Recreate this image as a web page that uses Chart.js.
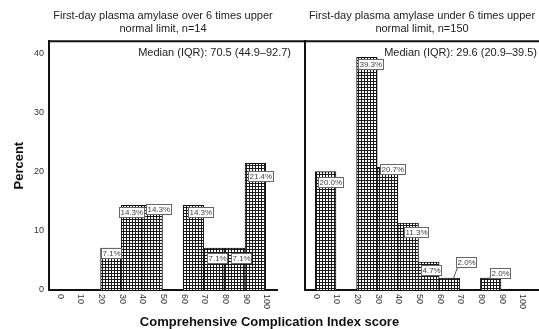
<!DOCTYPE html>
<html>
<head>
<meta charset="utf-8">
<script src="https://cdn.jsdelivr.net/npm/chart.js@4.4.0/dist/chart.umd.min.js"></script>
<style>
  body { margin: 0; background: #fff; }
  #wrap { position: relative; width: 539px; height: 329px; overflow: hidden; }
  .panel { position: absolute; top: 0; height: 329px; }
  #left { left: 0; width: 305px; }
  #right { left: 301px; width: 238px; }
  #xtitle { position: absolute; left: 0; width: 539px; top: 314px; text-align: center;
            font: bold 13px "Liberation Sans", Arial, sans-serif; color: #111; }
</style>
</head>
<body>
<div id="wrap">
  <div class="panel" id="left"><canvas id="chartOver"></canvas></div>
  <div class="panel" id="right"><canvas id="chartUnder"></canvas></div>
  <div id="xtitle">Comprehensive Complication Index score</div>
</div>
<script>
// bins of 10 points, 0-100
const binEdges = [0, 10, 20, 30, 40, 50, 60, 70, 80, 90, 100];
const yTicks = [0, 10, 20, 30, 40];

const overTitle = ['First-day plasma amylase over 6 times upper', 'normal limit, n=14'];
const overValues = [null, null, 7.1, 14.3, 14.3, null, 14.3, 7.1, 7.1, 21.4];
const overMedian = 'Median (IQR): 70.5 (44.9\u201392.7)';

const underTitle = ['First-day plasma amylase under 6 times upper', 'normal limit, n=150'];
const underValues = [20.0, null, 39.3, 20.7, 11.3, 4.7, 2.0, null, 2.0, null];
const underMedian = 'Median (IQR): 29.6 (20.9\u201339.5)';

// where each % box sits, relative to its bar's top-left corner (px)
const overBoxShift = [null, null, [0, 0], [-2, 2], [4, -1], null, [5, 2], [3, 5], [7, 5], [3, 8]];
const underBoxShift = [[3, 5], null, [1, 2], [3, -3], [6, 4], [3, 3], [17, -21], null, [10, -10], null];

function gridPattern() {
  const c = document.createElement('canvas');
  c.width = 3; c.height = 3;
  const g = c.getContext('2d');
  g.fillStyle = '#fff';
  g.fillRect(0, 0, 3, 3);
  g.fillStyle = '#1a1a1a';
  g.fillRect(0, 0, 3, 1);
  g.fillRect(0, 0, 1, 3);
  return g.createPattern(c, 'repeat');
}

function toPoints(values) {
  const pts = [];
  values.forEach((v, i) => {
    if (v !== null) pts.push({ x: binEdges[i] + 5, y: v });
  });
  return pts;
}

function extras(median, medianRight, boxShift, lineRight) {
  return {
    id: 'extras',
    afterDraw(chart) {
      const { ctx, chartArea, scales } = chart;
      ctx.save();
      // top frame line
      ctx.strokeStyle = '#111';
      ctx.lineWidth = 2;
      ctx.beginPath();
      ctx.moveTo(chartArea.left - 1, chartArea.top);
      ctx.lineTo(lineRight, chartArea.top);
      ctx.stroke();

      // x tick labels, turned clockwise
      ctx.fillStyle = '#333';
      ctx.font = '9px "Liberation Sans", Arial, sans-serif';
      ctx.textAlign = 'left';
      ctx.textBaseline = 'middle';
      scales.x.ticks.forEach(t => {
        const px = scales.x.getPixelForValue(t.value);
        ctx.save();
        ctx.translate(px + 1, chartArea.bottom + 4);
        ctx.rotate(Math.PI / 2);
        ctx.fillText(String(t.value), 0, 0);
        ctx.restore();
      });

      // percentage boxes
      const meta = chart.getDatasetMeta(0);
      const shifts = boxShift.filter(s => s !== null);
      const vals = chart.data.datasets[0].data;
      ctx.font = '8px "Liberation Sans", Arial, sans-serif';
      meta.data.forEach((bar, i) => {
        const label = vals[i].y.toFixed(1) + '%';
        const left = bar.x - bar.width / 2;
        const bx = Math.round(left + shifts[i][0]) + 0.5;
        const by = Math.round(bar.y + shifts[i][1]) + 0.5;
        const w = Math.round(ctx.measureText(label).width + 2);
        const h = 10;
        if (shifts[i][1] < -6) {
          ctx.strokeStyle = '#555';
          ctx.lineWidth = 1;
          ctx.beginPath();
          ctx.moveTo(bx + 1, by + h);
          ctx.lineTo(bx - 3, bar.y);
          ctx.stroke();
        }
        ctx.fillStyle = '#fff';
        ctx.fillRect(bx, by, w, h);
        ctx.strokeStyle = '#666';
        ctx.lineWidth = 1;
        ctx.strokeRect(bx, by, w, h);
        ctx.fillStyle = '#444';
        ctx.textAlign = 'left';
        ctx.fillText(label, bx + 1, by + h / 2 + 0.5);
      });

      // median note
      ctx.fillStyle = '#222';
      ctx.font = '11px "Liberation Sans", Arial, sans-serif';
      ctx.textAlign = 'right';
      ctx.fillText(median, medianRight, 53);
      ctx.restore();
    }
  };
}

function makeChart(id, title, values, median, medianRight, boxShift, opts) {
  return new Chart(document.getElementById(id), {
    type: 'bar',
    data: {
      datasets: [{
        data: toPoints(values),
        backgroundColor: gridPattern(),
        borderColor: '#111',
        borderWidth: 1,
        borderSkipped: 'bottom',
        barPercentage: 1,
        categoryPercentage: 1
      }]
    },
    options: {
      responsive: true,
      maintainAspectRatio: false,
      animation: false,
      layout: { padding: { left: 0, right: opts.padRight, top: 0, bottom: 0 } },
      plugins: {
        legend: { display: false },
        tooltip: { enabled: false },
        title: {
          display: true,
          text: title,
          fullSize: false,
          color: '#222',
          font: { family: '"Liberation Sans", Arial, sans-serif', size: 11, weight: 'normal', lineHeight: 1.15 },
          padding: { top: 10, bottom: 6 }
        }
      },
      scales: {
        x: {
          type: 'linear',
          offset: false,
          min: -5,
          max: opts.xMax,
          afterBuildTicks: s => { s.ticks = binEdges.map(v => ({ value: v })); },
          afterFit: s => { s.height = 39; },
          ticks: { display: false },
          grid: { display: false, drawTicks: false },
          border: { display: true, color: '#111', width: 2 }
        },
        y: {
          min: 0,
          max: 42,
          afterBuildTicks: s => { s.ticks = yTicks.map(v => ({ value: v })); },
          afterFit: s => { s.width = opts.yWidth; },
          ticks: {
            display: opts.yLabels,
            color: '#333',
            padding: 5,
            font: { family: '"Liberation Sans", Arial, sans-serif', size: 9 }
          },
          grid: { display: false, drawTicks: false },
          border: { display: true, color: '#111', width: 2 },
          title: {
            display: opts.yLabels,
            text: 'Percent',
            color: '#111',
            font: { family: '"Liberation Sans", Arial, sans-serif', size: 13, weight: 'bold' },
            padding: { top: 12, bottom: 0 }
          }
        }
      }
    },
    plugins: [extras(median, medianRight, boxShift, opts.lineRight)]
  });
}

makeChart('chartOver', overTitle, overValues, overMedian, 291, overBoxShift,
  { padRight: 28, xMax: 105.5, yWidth: 49, yLabels: true, lineRight: 305 });
makeChart('chartUnder', underTitle, underValues, underMedian, 236, underBoxShift,
  { padRight: 0, xMax: 108.4, yWidth: 4, yLabels: false, lineRight: 238 });
</script>
</body>
</html>
